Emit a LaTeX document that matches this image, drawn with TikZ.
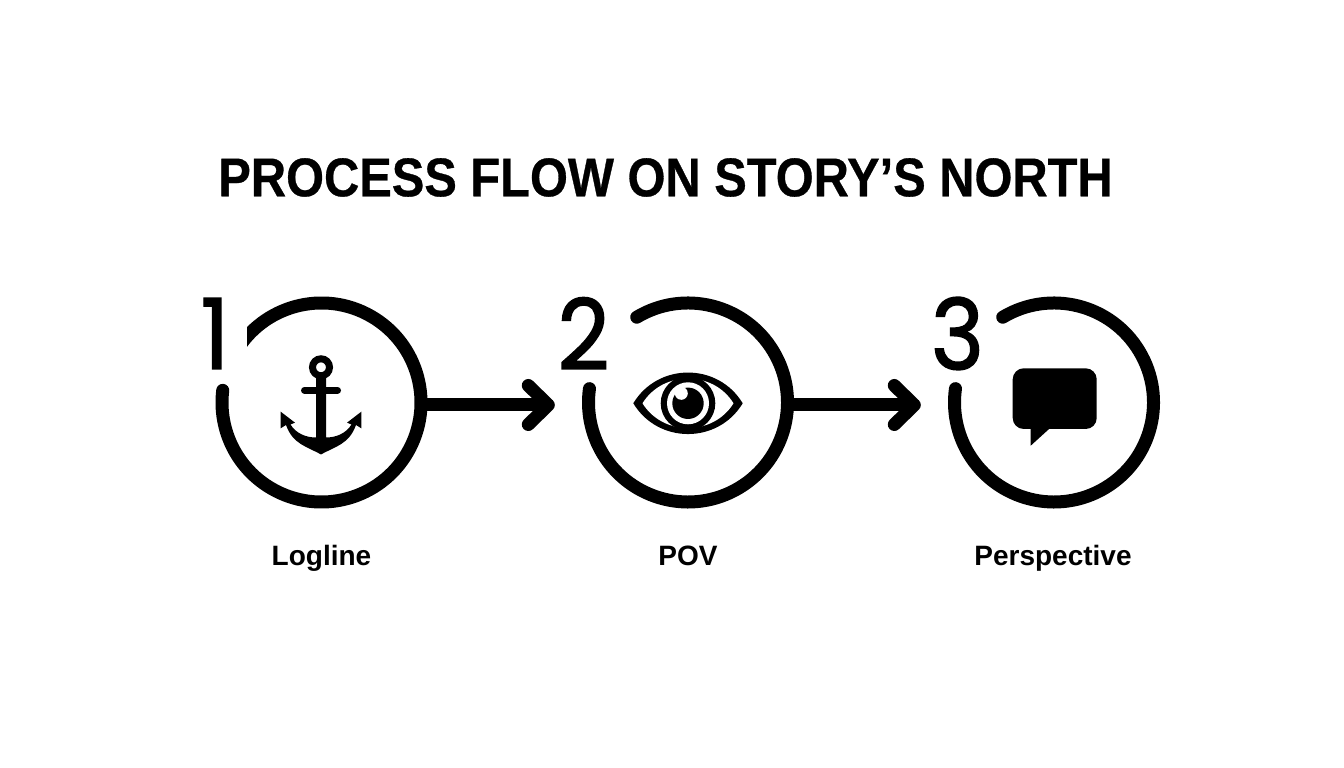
\documentclass[tikz,border=0pt]{standalone}
\usepackage{fontspec}
\setmainfont{Liberation Sans}
\newfontfamily\numfont[FakeBold=1.6]{Poppins}
\newfontfamily\titlefont[FakeBold=0.6]{Liberation Sans Bold}
\usetikzlibrary{arrows.meta,calc}
\definecolor{ink}{HTML}{000000}
\tikzset{
  ringbox/.style={circle, minimum size=212pt, inner sep=0pt},
  ringline/.style={line width=13pt, draw=ink, line cap=round},
  flow/.style={line width=13pt, draw=ink, shorten >=27pt,
    -{Straight Barb[round, length=20pt, width=39pt]}},
  num/.style={text=ink, inner sep=0pt, xscale=0.92, font=\numfont\fontsize{98}{98}\selectfont},
  title/.style={text=ink, inner sep=0pt, xscale=0.895, font=\titlefont\fontsize{54.5}{55}\selectfont},
  labm/.style={text=ink, inner sep=0pt, anchor=base, font=\bfseries\fontsize{28}{28}\selectfont},
  icon/.style={fill=ink, draw=none}
}
\begin{document}
\begin{tikzpicture}[x=1pt,y=1pt]
  \useasboundingbox (0,0) rectangle (1344,768);
  \node[title] (head) at (665.5,590.5) {PROCESS FLOW ON STORY’S NORTH};

  \node[ringbox] (logline) at (321.5,365.5) {};
  \node[ringbox] (pov) at (688,365.5) {};
  \node[ringbox] (persp) at (1054,365.5) {};

  % first ring stops straight at the numeral
  \begin{scope}
    \clip (247,490) -- (440,490) -- (440,240) -- (200,240) -- (200,385) -- (247,385) -- cycle;
    \draw[ringline] ($(logline)+(150:99.5)$) arc[start angle=150,end angle=-187,radius=99.5pt];
  \end{scope}
  \draw[ringline] ($(pov)+(121:99.5)$) arc[start angle=121,end angle=-188,radius=99.5pt];
  \draw[ringline] ($(persp)+(121:99.5)$) arc[start angle=121,end angle=-188,radius=99.5pt];

  \node[num] (n1) at (215,434.5) {1};
  \node[num] (n2) at (583.5,434.5) {2};
  \node[num] (n3) at (957.5,434.5) {3};

  \draw[flow] ([xshift=-3pt,yshift=-2.5pt]logline.east) -- ([yshift=-2.5pt]pov.west);
  \draw[flow] ([xshift=-3pt,yshift=-2.5pt]pov.east) -- ([yshift=-2.5pt]persp.west);

  % anchor
  \begin{scope}[shift={(logline.center)},xshift=-0.5pt,y=-1pt]
    \draw[line width=7pt, draw=ink] (0,-35.2) circle (8.5pt);
    \draw[line width=7pt, draw=ink, line cap=round] (-16.5,-12.2) -- (16.5,-12.2);
    \fill[icon] (0,52) .. controls (-14,44) and (-28,42) .. (-35,22.5) -- (-40.3,25.8)
      -- (-40.3,9.2) -- (-26,20.2) -- (-30.5,22) .. controls (-25,31) and (-15,35) .. (-5,35)
      -- (-5,-28) -- (5,-28) -- (5,35) .. controls (15,35) and (25,31) .. (30.5,22)
      -- (26,20.2) -- (40.3,9.2) -- (40.3,25.8) -- (35,22.5)
      .. controls (28,42) and (14,44) .. (0,52) -- cycle;
  \end{scope}

  % eye
  \begin{scope}[shift={(pov.center)},y=-1pt,yshift=-0.8pt]
    \fill[icon] (-54.7,0) .. controls (-30,-41) and (30,-41) .. (54.7,0)
      .. controls (30,41) and (-30,41) .. (-54.7,0) -- cycle;
    \fill[white] (-45.5,0) .. controls (-25,-33) and (25,-33) .. (45.5,0)
      .. controls (25,33) and (-25,33) .. (-45.5,0) -- cycle;
    \fill[icon] (0,0) circle (27.3pt);
    \fill[white] (0,0) circle (21pt);
    \fill[icon] (0,0) circle (15.7pt);
    \fill[white] (-6.7,-10) circle (6.5pt);
  \end{scope}

  % speech bubble
  \begin{scope}[shift={(persp.center)},y=-1pt]
    \fill[icon, rounded corners=11pt] (-41.3,-34.2) rectangle (42.7,26.5);
    \fill[icon] (-23.3,25) -- (-23.3,43.2) -- (-3.3,25) -- cycle;
  \end{scope}

  \node[labm] (l1) at (321.5,202) {Logline};
  \node[labm] (l2) at (688,202) {POV};
  \node[labm] (l3) at (1053,202) {Perspective};
\end{tikzpicture}
\end{document}
